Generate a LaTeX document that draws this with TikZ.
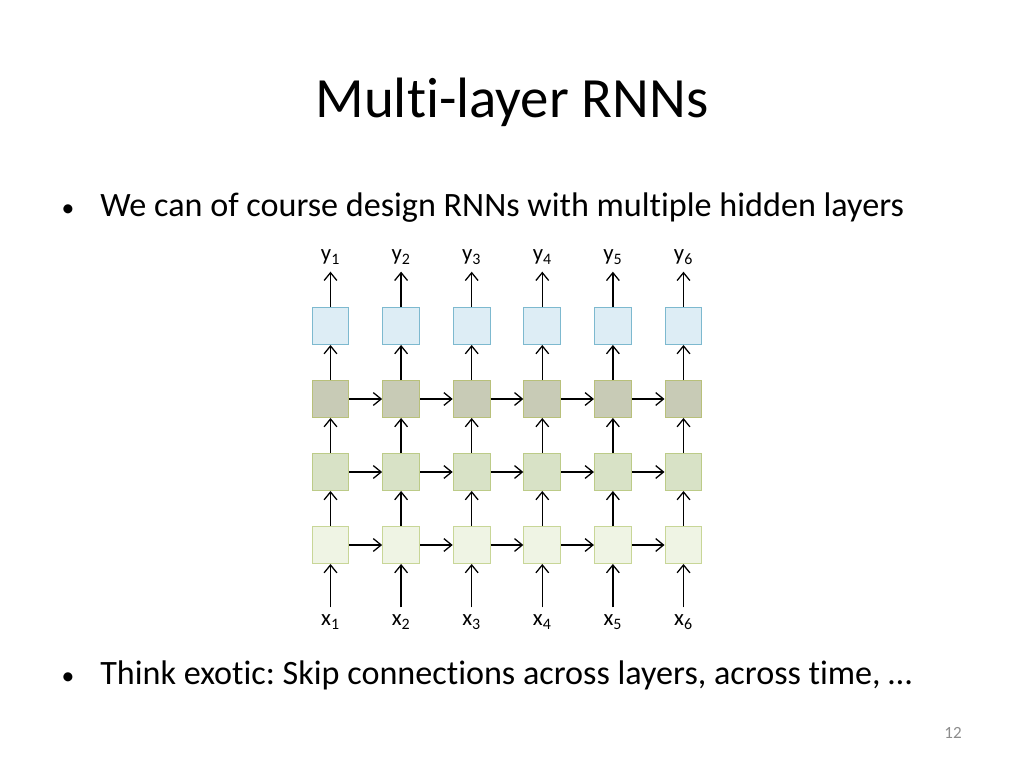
\documentclass[tikz,border=0pt]{standalone}
\usepackage{fontspec}
\setmainfont[Ligatures=NoCommon]{Carlito}
\usetikzlibrary{positioning, arrows.meta}

\definecolor{outfill}{HTML}{DDEDF5}
\definecolor{outdraw}{HTML}{7DB9CF}
\definecolor{topfill}{HTML}{C8CBB6}
\definecolor{topdraw}{HTML}{B8C07A}
\definecolor{midfill}{HTML}{D8E2C6}
\definecolor{middraw}{HTML}{BCCB88}
\definecolor{lowfill}{HTML}{EFF4E4}
\definecolor{lowdraw}{HTML}{C8D697}
\definecolor{pagegray}{HTML}{8C8C8C}

\begin{document}
\frenchspacing
\begin{tikzpicture}[x=0.703pt, y=-0.703pt,
    cell/.style={draw, line width=0.7pt, minimum size=26pt, inner sep=0pt},
    outcell/.style={cell, draw=outdraw, fill=outfill},
    topcell/.style={cell, draw=topdraw, fill=topfill},
    midcell/.style={cell, draw=middraw, fill=midfill},
    lowcell/.style={cell, draw=lowdraw, fill=lowfill},
    bodytext/.style={inner sep=0pt, font=\fontsize{24}{29}\selectfont},
    seqlabel/.style={font=\fontsize{16}{19}\selectfont, inner sep=5pt},
    link/.style={-{Straight Barb[length=5.5pt, width=9pt]}, line width=0.9pt}]
    \useasboundingbox (0,0) rectangle (1024,768);
    % Title and bullets
    \node (title) [anchor=base, font=\fontsize{40}{48}\selectfont] at (512,117) {Multi-layer RNNs};
    \node (dot1) [bodytext, anchor=base] at (68,216) {\fontsize{18}{20}\selectfont•};
    \node (text1) [bodytext, anchor=base west] at (100,216) {We can of course design RNNs with multiple hidden layers};
    \node (dot2) [bodytext, anchor=base] at (68,684) {\fontsize{18}{20}\selectfont•};
    \node (text2) [bodytext, anchor=base west] at (100,684) {Think exotic: Skip connections across layers, across time, …};
    \node (page) [anchor=base, font=\fontsize{12}{14}\selectfont, text=pagegray] at (953,738) {12};
    % The grid of cells
    \foreach \i in {1,...,6} {
        \pgfmathsetmacro{\cx}{330.5+70.6*(\i-1)}
        \node (o\i) [outcell] at (\cx,326) {};
        \node (t\i) [topcell] at (\cx,399) {};
        \node (m\i) [midcell] at (\cx,472) {};
        \node (l\i) [lowcell] at (\cx,545) {};
        \node (y\i) [seqlabel] at (\cx,257) {y\textsubscript{\i}};
        \node (x\i) [seqlabel] at (\cx,622) {x\textsubscript{\i}};
        \draw [link] (x\i) -- (l\i);
        \draw [link] (l\i) -- (m\i);
        \draw [link] (m\i) -- (t\i);
        \draw [link] (t\i) -- (o\i);
        \draw [link] (o\i) -- (y\i);
    }
    % Recurrent links
    \foreach \i [evaluate=\i as \j using int(\i+1)] in {1,...,5} {
        \draw [link] (t\i) -- (t\j);
        \draw [link] (m\i) -- (m\j);
        \draw [link] (l\i) -- (l\j);
    }
\end{tikzpicture}
\end{document}
